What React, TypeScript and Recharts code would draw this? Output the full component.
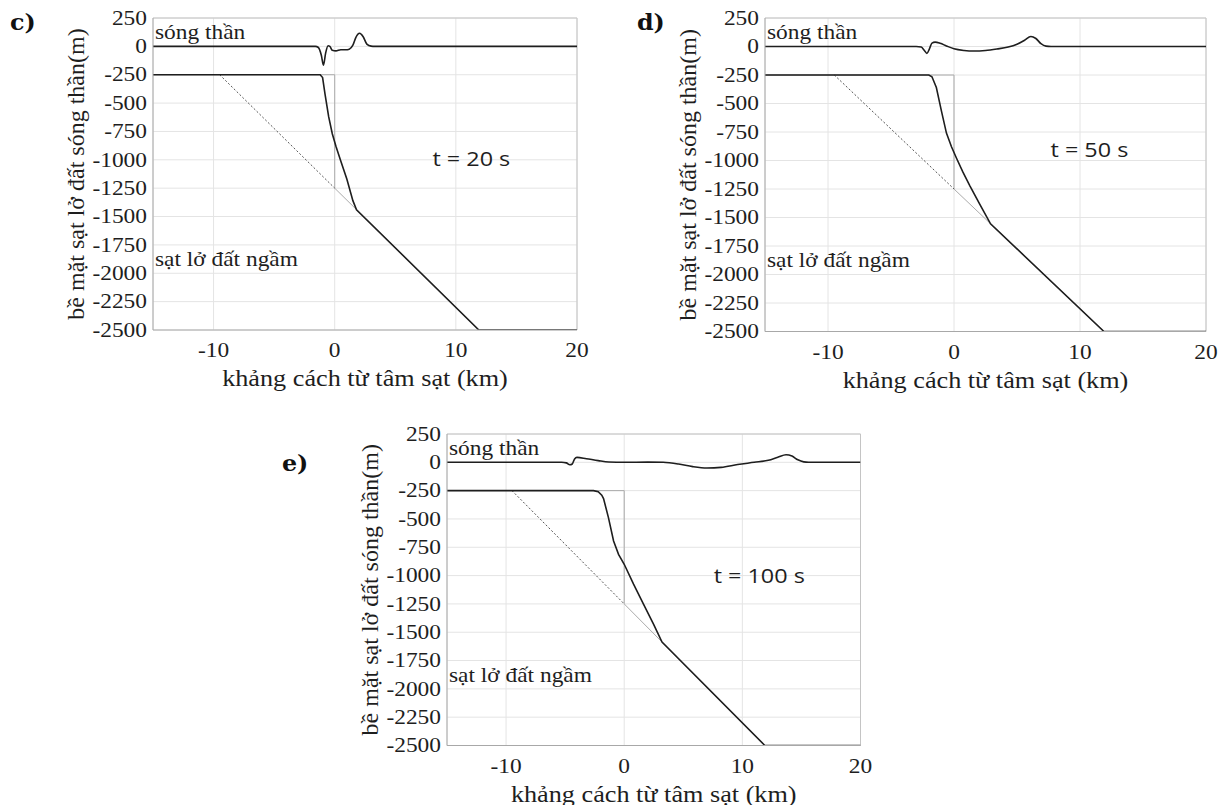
import React from 'react';
import {
  CartesianGrid,
  Line,
  LineChart,
  ReferenceDot,
  ReferenceLine,
  XAxis,
  YAxis
} from 'recharts';

type Pt = [number, number];

const X_TICKS = [-10, 0, 10, 20];
const Y_TICKS = [250, 0, -250, -500, -750, -1000, -1250, -1500, -1750, -2000, -2250, -2500];

// initial slide block and original seabed (same in all panels)
const initialProfile: Pt[] = [[-15, -250], [0, -250], [0, -1250], [11.9, -2500], [20, -2500]];
const seabedUnderSlide: Pt[] = [[-9.5, -250], [0, -1250]];

// c) t = 20 s
const tsunamiC: Pt[] = [
  [-15, 0], [-1.6, 0], [-1.35, -10], [-1.1, -80], [-0.93, -165], [-0.75, -60], [-0.55, 5],
  [-0.4, 0], [-0.2, -35], [0.1, -40], [0.5, -30], [0.9, -30], [1.2, -25], [1.5, 10],
  [1.75, 80], [2.05, 115], [2.35, 85], [2.65, 20], [3.0, 2], [3.3, 0], [20, 0]
];
const slideC: Pt[] = [
  [-15, -250], [-1.2, -250], [-1.0, -275], [-0.8, -420], [-0.5, -620], [-0.2, -770],
  [0.1, -880], [0.5, -1010], [1.0, -1170], [1.5, -1360], [1.8, -1440], [11.9, -2500], [20, -2500]
];

// d) t = 50 s
const tsunamiD: Pt[] = [
  [-15, 0], [-3.0, 0], [-2.6, -5], [-2.35, -35], [-2.15, -60], [-1.95, -20], [-1.75, 30],
  [-1.5, 38], [-1.1, 28], [-0.6, 5], [0, -20], [0.8, -35], [1.6, -40], [2.5, -35], [3.4, -22],
  [4.3, -5], [5.0, 20], [5.6, 55], [6.1, 88], [6.5, 70], [6.9, 25], [7.3, 3], [7.7, 0], [20, 0]
];
const slideD: Pt[] = [
  [-15, -250], [-2.0, -250], [-1.75, -265], [-1.4, -360], [-1.0, -564], [-0.6, -760],
  [-0.2, -880], [0.2, -980], [0.7, -1100], [1.25, -1220], [2.04, -1382], [2.9, -1555],
  [11.9, -2500], [20, -2500]
];

// e) t = 100 s
const tsunamiE: Pt[] = [
  [-15, 0], [-5.3, 0], [-4.9, -5], [-4.6, -22], [-4.4, -15], [-4.2, 30], [-4.0, 44],
  [-3.2, 32], [-2.2, 15], [-1.3, 3], [0, 0], [2, 2], [3.3, 0], [4.6, -15], [5.8, -38],
  [7.0, -50], [8.2, -45], [9.6, -20], [11, 0], [12.2, 18], [13.0, 45], [13.7, 67],
  [14.2, 55], [14.7, 22], [15.2, 4], [15.6, 0], [20, 0]
];
const slideE: Pt[] = [
  [-15, -250], [-2.6, -250], [-2.2, -260], [-1.9, -290], [-1.75, -320], [-1.33, -490],
  [-0.9, -695], [-0.48, -812], [0, -900], [0.79, -1076], [1.63, -1252], [2.48, -1428],
  [3.2, -1587], [11.9, -2500], [20, -2500]
];

const toRows = (pts: Pt[]) => pts.map(([x, y]) => ({ x, y }));

const SERIF = 'Liberation Serif, Times New Roman, serif';
const SANS = 'Open Sans, sans-serif';
const SX = 1.17; // source figure is stretched horizontally
const INK = '#1e1e1e';

const txt = (font: string, size: number) => ({ fontFamily: font, fontSize: size, fill: INK });

const XTick = (p: any) => (
  <text
    transform={`translate(${p.x},${p.y + 27}) scale(${SX},1)`}
    textAnchor="middle"
    style={txt(SERIF, 20)}
  >
    {p.payload.value}
  </text>
);

const YTick = (p: any) => (
  <text
    transform={`translate(${p.x - 6},${p.y + 6.7}) scale(${SX},1)`}
    textAnchor="end"
    style={txt(SERIF, 20)}
  >
    {p.payload.value}
  </text>
);

const note = (text: string, font: string, size: number, central = false) => (props: any) => {
  const vb = props.viewBox || {};
  return (
    <text
      transform={`translate(${vb.x + 2},${vb.y}) scale(${SX},1)`}
      style={txt(font, size)}
      dominantBaseline={central ? 'central' : 'auto'}
    >
      {text}
    </text>
  );
};

type PanelProps = {
  tag: string;
  tagPos: { left: number; top: number };
  time: string;
  timePos: Pt;
  plot: { left: number; top: number; width: number; height: number };
  tsunami: Pt[];
  slide: Pt[];
};

function Panel({ tag, tagPos, time, timePos, plot, tsunami, slide }: PanelProps) {
  const padLeft = 100;
  const padTop = 10;
  const padRight = 24;
  const width = padLeft + plot.width + padRight;
  const height = padTop + plot.height + 64;
  return (
    <>
      <div
        style={{
          position: 'absolute',
          left: tagPos.left,
          top: tagPos.top,
          fontFamily: 'DejaVu Serif, serif',
          fontWeight: 'bold',
          fontSize: 22,
          lineHeight: '24px',
          color: '#111',
          transform: 'scaleX(1.08)',
          transformOrigin: 'left top'
        }}
      >
        {tag}
      </div>
      <div style={{ position: 'absolute', left: plot.left - padLeft, top: plot.top - padTop }}>
        <LineChart width={width} height={height} margin={{ top: padTop, right: padRight, bottom: 0, left: 40 }}>
          <CartesianGrid stroke="#e4e4e4" strokeWidth={1} />
          <XAxis
            type="number"
            dataKey="x"
            domain={[-15, 20]}
            ticks={X_TICKS}
            allowDataOverflow
            height={64}
            tickSize={0}
            tickMargin={0}
            tickLine={false}
            axisLine={{ stroke: '#a8a8a8' }}
            tick={XTick}
            label={(p: any) => {
              const vb = p.viewBox;
              return (
                <text
                  transform={`translate(${vb.x + vb.width / 2},${vb.y + 56}) scale(1.14,1)`}
                  textAnchor="middle"
                  style={txt(SERIF, 23)}
                >
                  khảng cách từ tâm sạt (km)
                </text>
              );
            }}
          />
          <YAxis
            type="number"
            domain={[-2500, 250]}
            ticks={Y_TICKS}
            allowDataOverflow
            width={60}
            tickSize={0}
            tickMargin={0}
            tickLine={false}
            axisLine={{ stroke: '#a8a8a8' }}
            tick={YTick}
            label={(p: any) => {
              const vb = p.viewBox;
              const cx = vb.x + vb.width - 77;
              const cy = vb.y + vb.height / 2;
              return (
                <text
                  transform={`translate(${cx},${cy}) rotate(-90)`}
                  textAnchor="middle"
                  dominantBaseline="central"
                  style={txt(SERIF, 24)}
                >
                  bề mặt sạt lở đất sóng thần(m)
                </text>
              );
            }}
          />
          <ReferenceLine y={250} stroke="#c4c4c4" />
          <ReferenceLine x={20} stroke="#c4c4c4" />
          <Line
            data={toRows(initialProfile)}
            dataKey="y"
            type="linear"
            stroke="#ababab"
            strokeWidth={1}
            dot={false}
            activeDot={false}
            isAnimationActive={false}
          />
          <Line
            data={toRows(seabedUnderSlide)}
            dataKey="y"
            type="linear"
            stroke="#555"
            strokeWidth={1}
            strokeDasharray="2 2"
            dot={false}
            activeDot={false}
            isAnimationActive={false}
          />
          <Line
            data={toRows(slide)}
            dataKey="y"
            type="linear"
            stroke={INK}
            strokeWidth={1.6}
            dot={false}
            activeDot={false}
            isAnimationActive={false}
          />
          <Line
            data={toRows(tsunami)}
            dataKey="y"
            type="monotone"
            stroke={INK}
            strokeWidth={1.6}
            dot={false}
            activeDot={false}
            isAnimationActive={false}
          />
          <ReferenceDot x={-15} y={68} r={0} fill="none" stroke="none" label={note('sóng thần', SERIF, 20)} />
          <ReferenceDot x={-15} y={-1935} r={0} fill="none" stroke="none" label={note('sạt lở đất ngầm', SERIF, 20)} />
          <ReferenceDot
            x={timePos[0]}
            y={timePos[1]}
            r={0}
            fill="none"
            stroke="none"
            label={note(time, SANS, 20, true)}
          />
        </LineChart>
      </div>
    </>
  );
}

export default function App() {
  return (
    <div style={{ position: 'absolute', left: 0, top: 0, width: 1227, height: 805, background: '#fff' }}>
      <Panel
        tag="c)"
        tagPos={{ left: 10, top: 10 }}
        time="t = 20 s"
        timePos={[7.9, -990]}
        plot={{ left: 153, top: 17.5, width: 424, height: 312 }}
        tsunami={tsunamiC}
        slide={slideC}
      />
      <Panel
        tag="d)"
        tagPos={{ left: 637, top: 10 }}
        time="t = 50 s"
        timePos={[7.5, -897]}
        plot={{ left: 765, top: 17.5, width: 441, height: 313.5 }}
        tsunami={tsunamiD}
        slide={slideD}
      />
      <Panel
        tag="e)"
        tagPos={{ left: 282, top: 451 }}
        time="t = 100 s"
        timePos={[7.4, -994]}
        plot={{ left: 447, top: 433.5, width: 413.5, height: 311.5 }}
        tsunami={tsunamiE}
        slide={slideE}
      />
    </div>
  );
}
